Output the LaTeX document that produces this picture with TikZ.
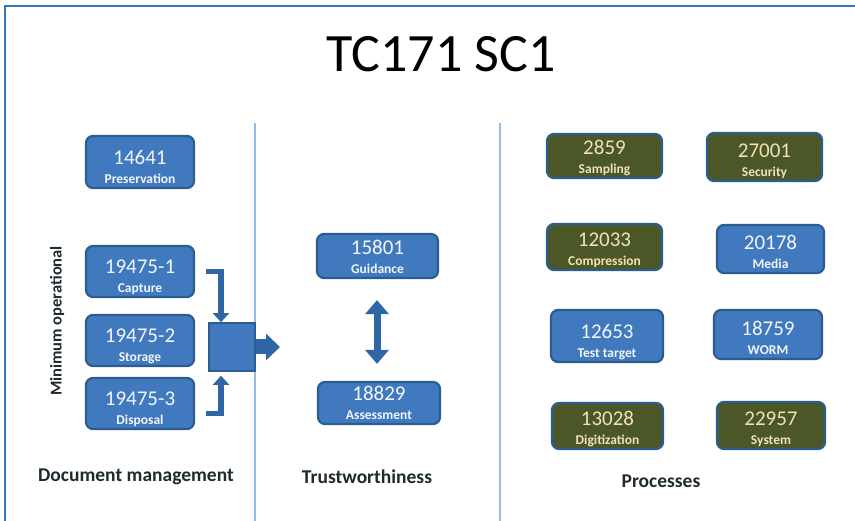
\documentclass[tikz,border=0pt]{standalone}
\usepackage{fontspec}
\setmainfont{Carlito}
\usetikzlibrary{arrows.meta,calc}

\definecolor{frameblue}{HTML}{2E78C2}
\definecolor{divblue}{HTML}{8EC0EA}
\definecolor{boxblue}{HTML}{4179BF}
\definecolor{boxedge}{HTML}{2B5D90}
\definecolor{boxolive}{HTML}{4B5727}
\definecolor{olivetxt}{HTML}{F0E2B6}
\definecolor{bluetxt}{HTML}{F2F6FB}
\definecolor{arrowblue}{HTML}{2F66A4}
\definecolor{labeltxt}{HTML}{1E2A2E}

% one standard: a rounded box with its number and its short title
\newcommand\isobox[8]{%
  \node[#1box, minimum width=#5pt, minimum height=#6pt] (#2) at (#3,#4) {};
  \node[numtext, #1label] (#2num) at ([yshift=25pt]#2.south) {#7};
  \node[subtext, #1label] (#2sub) at ([yshift=6pt]#2.south) {#8};
}

\begin{document}
\begin{tikzpicture}[x=1pt, y=-1pt,
  basebox/.style={rounded corners=7pt, line width=2.2pt, draw=boxedge, inner sep=0pt},
  bluebox/.style={basebox, fill=boxblue},
  olivebox/.style={basebox, fill=boxolive},
  bluelabel/.style={text=bluetxt},
  olivelabel/.style={text=olivetxt},
  numtext/.style={anchor=base, inner sep=0pt, font=\fontsize{21}{21}\selectfont},
  subtext/.style={anchor=base, inner sep=0pt, font=\fontsize{13.5}{14}\selectfont\bfseries},
  heading/.style={anchor=base, inner sep=0pt, text=labeltxt, font=\fontsize{19.5}{20}\selectfont\bfseries},
  elbowarrow/.style={draw=arrowblue, line width=5.5pt, -{Triangle[width=16pt,length=9pt]}},
  fatarrow/.style={draw=arrowblue, line width=15pt, -{Triangle[width=26pt,length=14pt]}},
  twoway/.style={draw=arrowblue, line width=7pt, {Triangle[width=23pt,length=14pt]}-{Triangle[width=23pt,length=14pt]}}
]
\useasboundingbox[fill=white] (0,0) rectangle (855,521);

% frame and column dividers
\draw[frameblue, line width=2.5pt] (5,540) -- (5,6) -- (880,6);
\draw[divblue, line width=1.6pt] (255,123) -- (255,521);
\draw[divblue, line width=1.6pt] (500,123) -- (500,521);

% title
\node[inner sep=0pt, font=\fontsize{54}{54}\selectfont] (title) at (441,54) {TC171 SC1};

% document management column
\isobox{blue}{pres}{140}{162}{108}{52}{14641}{Preservation}
\isobox{blue}{cap}{140}{271.5}{108}{51}{19475-1}{Capture}
\isobox{blue}{sto}{140}{340.5}{108}{51}{19475-2}{Storage}
\isobox{blue}{dis}{140}{403.5}{108}{51}{19475-3}{Disposal}
\node[draw=boxedge, fill=boxblue, line width=1.6pt, minimum width=46pt, minimum height=48pt, inner sep=0pt] (sq) at (232,347) {};

\node[rotate=90, inner sep=0pt, text=labeltxt, font=\fontsize{16.5}{17}\selectfont\bfseries] (minop) at (57,321) {Minimum operational};
\node[heading] (docm) at (136,482) {Document management};

\draw[elbowarrow] ([xshift=11pt]cap.east) -| ([xshift=-11pt]sq.north);
\draw[elbowarrow] ([xshift=11pt,yshift=-10pt]dis.east) -| ([xshift=-11pt,yshift=-4pt]sq.south);
\coordinate (sqout) at (280,347);
\draw[fatarrow] (sq.east) -- (sqout);

% trustworthiness column
\isobox{blue}{guid}{377.5}{256}{121}{44}{15801}{Guidance}
\isobox{blue}{asse}{379}{403}{122}{42}{18829}{Assessment}
\draw[twoway, shorten <=21pt, shorten >=17pt] (guid.south -| 377,0) -- (asse.north -| 377,0);
\node[heading] (trust) at (367,483) {Trustworthiness};

% processes column
\isobox{olive}{samp}{604.5}{156}{115}{44}{2859}{Sampling}
\isobox{olive}{secu}{764.5}{157}{115}{48}{27001}{Security}
\isobox{olive}{comp}{604.5}{247}{115}{46}{12033}{Compression}
\isobox{blue}{medi}{770.5}{249}{107}{48}{20178}{Media}
\isobox{blue}{test}{607}{336}{112}{52}{12653}{Test target}
\isobox{blue}{worm}{768}{334.5}{108}{49}{18759}{WORM}
\isobox{olive}{digi}{607.5}{426}{111}{46}{13028}{Digitization}
\isobox{olive}{syst}{771}{425.5}{108}{47}{22957}{System}
\node[heading] (proc) at (661,488) {Processes};
\end{tikzpicture}
\end{document}
